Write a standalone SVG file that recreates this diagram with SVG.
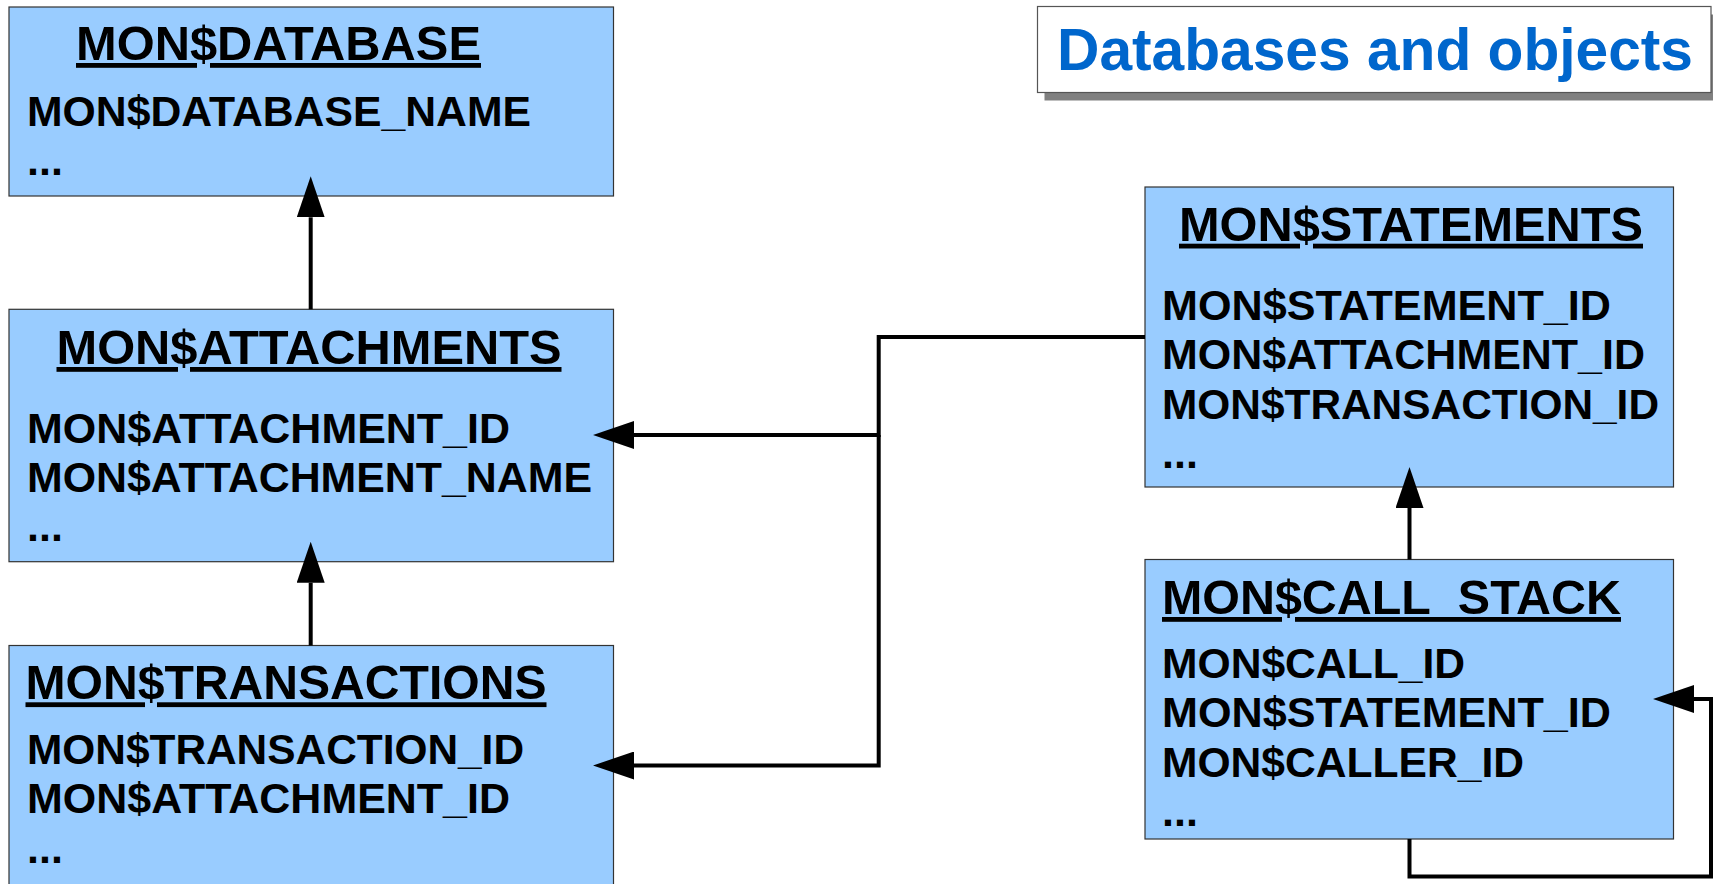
<svg xmlns="http://www.w3.org/2000/svg" width="1713" height="884" viewBox="0 0 1713 884">
  <style>
    .box { fill: #99ccff; stroke: #333333; stroke-width: 1.2; }
    .head { font-family: "Liberation Sans", Arial, sans-serif; font-weight: bold; font-size: 48px; fill: #000; text-decoration: underline; }
    .field { font-family: "Liberation Sans", Arial, sans-serif; font-weight: bold; font-size: 43px; fill: #000; }
    .link { fill: none; stroke: #000; stroke-width: 4; }
    .caption { font-family: "Liberation Sans", Arial, sans-serif; font-weight: bold; font-size: 58.6px; fill: #0066cc; }
  </style>
  <defs>
    <marker id="tip" viewBox="0 0 41 28" refX="0" refY="14" markerWidth="41" markerHeight="28" markerUnits="userSpaceOnUse" orient="auto">
      <path d="M0,0 L41,14 L0,28 Z" fill="#000"/>
    </marker>
  </defs>
  <rect width="1713" height="884" fill="#ffffff"/>

  <!-- caption -->
  <g id="caption">
    <rect x="1044.5" y="14.5" width="680" height="86" fill="#808080"/>
    <rect x="1037.5" y="6.5" width="673.5" height="86" fill="#ffffff" stroke="#555555" stroke-width="1.2"/>
    <text class="caption" x="1057" y="70" textLength="636" lengthAdjust="spacingAndGlyphs">Databases and objects</text>
  </g>

  <!-- tables -->
  <g id="mon-database">
    <rect class="box" x="9" y="7" width="604.5" height="189"/>
    <text class="head" x="76" y="60" textLength="405" lengthAdjust="spacingAndGlyphs">MON$DATABASE</text>
    <text class="field" x="27" y="126" textLength="504" lengthAdjust="spacingAndGlyphs">MON$DATABASE_NAME</text>
    <text class="field" x="27" y="175">...</text>
  </g>

  <g id="mon-attachments">
    <rect class="box" x="9" y="309.3" width="604.5" height="252.4"/>
    <text class="head" x="56.5" y="364" textLength="505" lengthAdjust="spacingAndGlyphs">MON$ATTACHMENTS</text>
    <text class="field" x="27" y="443.3" textLength="483" lengthAdjust="spacingAndGlyphs">MON$ATTACHMENT_ID</text>
    <text class="field" x="27" y="491.7" textLength="565" lengthAdjust="spacingAndGlyphs">MON$ATTACHMENT_NAME</text>
    <text class="field" x="27" y="540.7">...</text>
  </g>

  <g id="mon-transactions">
    <rect class="box" x="9" y="645.5" width="604.5" height="260"/>
    <text class="head" x="25.5" y="699.3" textLength="521" lengthAdjust="spacingAndGlyphs">MON$TRANSACTIONS</text>
    <text class="field" x="27" y="764" textLength="497" lengthAdjust="spacingAndGlyphs">MON$TRANSACTION_ID</text>
    <text class="field" x="27" y="812.7" textLength="483" lengthAdjust="spacingAndGlyphs">MON$ATTACHMENT_ID</text>
    <text class="field" x="27" y="862.7">...</text>
  </g>

  <g id="mon-statements">
    <rect class="box" x="1145" y="187" width="528.5" height="300"/>
    <text class="head" x="1179" y="240.7" textLength="464" lengthAdjust="spacingAndGlyphs">MON$STATEMENTS</text>
    <text class="field" x="1162" y="320" textLength="449" lengthAdjust="spacingAndGlyphs">MON$STATEMENT_ID</text>
    <text class="field" x="1162" y="369.3" textLength="483" lengthAdjust="spacingAndGlyphs">MON$ATTACHMENT_ID</text>
    <text class="field" x="1162" y="419.3" textLength="497" lengthAdjust="spacingAndGlyphs">MON$TRANSACTION_ID</text>
    <text class="field" x="1162" y="468">...</text>
  </g>

  <g id="mon-call-stack">
    <rect class="box" x="1145" y="559.5" width="528.5" height="279.5"/>
    <text class="head" x="1162" y="614" textLength="459" lengthAdjust="spacingAndGlyphs">MON$CALL_STACK</text>
    <text class="field" x="1162" y="677.7" textLength="303" lengthAdjust="spacingAndGlyphs">MON$CALL_ID</text>
    <text class="field" x="1162" y="727.3" textLength="449" lengthAdjust="spacingAndGlyphs">MON$STATEMENT_ID</text>
    <text class="field" x="1162" y="776.7" textLength="362" lengthAdjust="spacingAndGlyphs">MON$CALLER_ID</text>
    <text class="field" x="1162" y="825.7">...</text>
  </g>

  <!-- references between tables -->
  <g id="connectors">
    <path class="link" d="M310.7,309.3 V217.3" marker-end="url(#tip)"/>
    <path class="link" d="M310.7,645.5 V582.7" marker-end="url(#tip)"/>
    <path class="link" d="M1145,337 H878.7 V435 H634" marker-end="url(#tip)"/>
    <path class="link" d="M878.7,435 V765.5 H634" marker-end="url(#tip)"/>
    <path class="link" d="M1409.5,559.5 V508" marker-end="url(#tip)"/>
    <path class="link" d="M1409.5,839 V876.5 H1711 V699 H1694" marker-end="url(#tip)"/>
  </g>
</svg>
